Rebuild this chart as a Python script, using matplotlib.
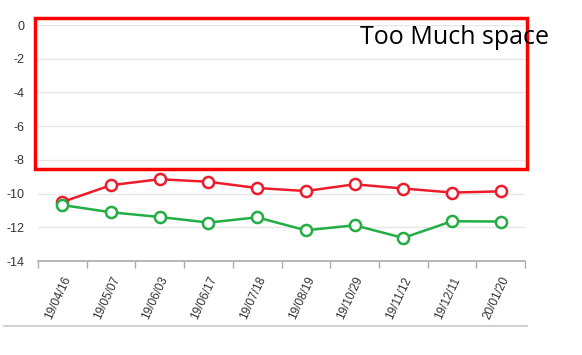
import matplotlib.pyplot as plt
from matplotlib.patches import Rectangle
from matplotlib.lines import Line2D

dates = ["19/04/16", "19/05/07", "19/06/03", "19/06/17", "19/07/18",
         "19/08/19", "19/10/29", "19/11/12", "19/12/11", "20/01/20"]
red_values = [-10.5, -9.5, -9.15, -9.3, -9.67, -9.85, -9.45, -9.7, -9.94, -9.87]
green_values = [-10.68, -11.11, -11.39, -11.72, -11.41, -12.18, -11.88, -12.63, -11.64, -11.66]
y_ticks = [0, -2, -4, -6, -8, -10, -12, -14]

W, H = 582, 355
fig = plt.figure(figsize=(W / 100, H / 100), dpi=100)
ax = fig.add_axes([38 / W, 1 - 261 / H, (525 - 38) / W, (261 - 25) / H])

x = list(range(len(dates)))
ax.plot(x, red_values, color="#ec1c2c", lw=1.8, marker="o", ms=8,
        mfc="white", mec="#ec1c2c", mew=1.8, zorder=3)
ax.plot(x, green_values, color="#22ad45", lw=1.8, marker="o", ms=8,
        mfc="white", mec="#22ad45", mew=1.8, zorder=4)

ax.set_xlim(-0.5, len(dates) - 0.5)
ax.set_ylim(-14, 0)
ax.set_yticks(y_ticks)
ax.set_yticklabels([str(v) for v in y_ticks], family="Liberation Sans")
ax.grid(axis="y", color="#e6e6e6", lw=1)
ax.set_axisbelow(True)

ax.set_xticks([i - 0.5 for i in range(len(dates) + 1)])
ax.set_xticklabels([])
ax.set_xticks(x, minor=True)
ax.set_xticklabels(dates, minor=True, rotation=65, ha="right", va="top",
                   rotation_mode="anchor", fontsize=8.5, color="#333333",
                   family="Liberation Sans")
ax.tick_params(axis="x", which="major", length=5, color="#aaaaaa", width=1)
ax.tick_params(axis="x", which="minor", length=0, pad=10)
ax.tick_params(axis="y", length=0, labelsize=9, labelcolor="#333333", pad=10)

for side in ["top", "right", "left"]:
    ax.spines[side].set_visible(False)
ax.spines["bottom"].set_color("#aaaaaa")
ax.spines["bottom"].set_linewidth(1.2)

# divider line below the chart
fig.add_artist(Line2D([4 / W, 527 / W], [1 - 326 / H, 1 - 326 / H],
                      color="#c8c8c8", lw=1.2))

# annotation box
fig.add_artist(Rectangle((35 / W, 1 - 169 / H), (527 - 35) / W, (169 - 18) / H,
                         fill=False, edgecolor="#ff0000", lw=2.5))
fig.text(360 / W, 1 - 44 / H, "Too Much space", fontsize=18,
         family="Open Sans", color="black", ha="left", va="baseline")

fig.savefig("out.png", dpi=100)
